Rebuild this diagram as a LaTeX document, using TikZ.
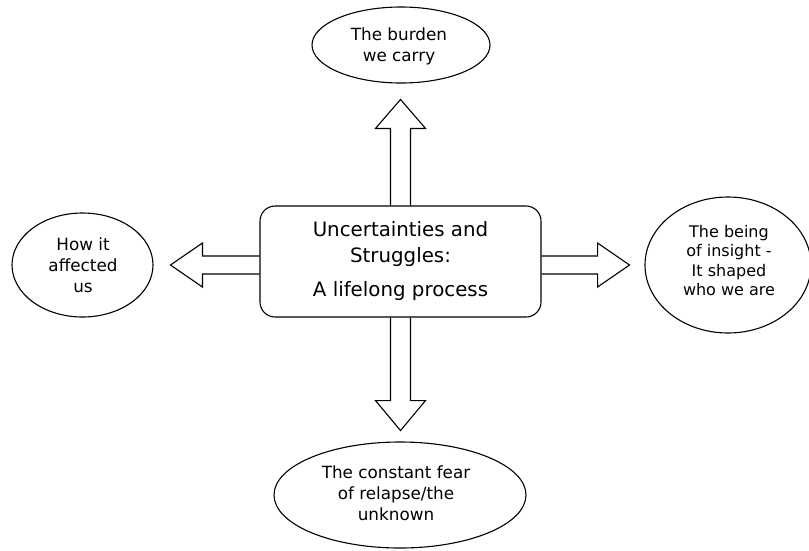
\documentclass[tikz,border=0pt]{standalone}
\usepackage{fontspec}
\setmainfont{DejaVu Sans}
\usetikzlibrary{shapes.geometric,calc}
\begin{document}
\begin{tikzpicture}[x=1pt,y=-1pt,
  line width=1.1pt,
  oval/.style={draw, ellipse, inner sep=0pt},
  ovaltext/.style={align=center, inner sep=0pt, font=\fontsize{16.8}{21}\selectfont},
  mainbox/.style={draw, rounded corners=15pt, minimum width=281pt, minimum height=111pt, inner sep=0pt,
    align=center, font=\fontsize{19.8}{26}\selectfont},
  blockarrow/.style={draw, line join=miter}
]
\useasboundingbox (0,0) rectangle (809,550);

% central box
\node[mainbox] (box) at (400.5,261.5) {Uncertainties and\\Struggles:\\[8pt]A lifelong process};

% ellipses
\node[oval, minimum width=178pt, minimum height=76pt] (top) at (401,45) {};
\node[oval, minimum width=141pt, minimum height=104pt] (left) at (82.5,265) {};
\node[oval, minimum width=166pt, minimum height=136pt] (right) at (728,265) {};
\node[oval, minimum width=252pt, minimum height=106pt] (bottom) at (400,495) {};

% ellipse texts
\node[ovaltext] (toptext) at (399,46) {The burden\\we carry};
\node[ovaltext] (lefttext) at (83,265) {How it\\affected\\us};
\node[ovaltext, font=\fontsize{16}{19.5}\selectfont] (righttext) at (729,260.5) {The being\\of insight -\\It shaped\\who we are};
\node[ovaltext] (bottomtext) at (396,493) {The constant fear\\of relapse/the\\unknown};

% block arrows
\coordinate (upbase) at (box.north);
\coordinate (downbase) at (box.south);
\coordinate (leftbase) at ($(box.west)+(0,3.5)$);
\coordinate (rightbase) at ($(box.east)+(0,3.5)$);

\draw[blockarrow] ($(upbase)+(-10,0)$) -- ++(0,-77) -- ++(-15,0) -- ++(25,-29) -- ++(25,29) -- ++(-15,0) -- ++(0,77);
\draw[blockarrow] ($(downbase)+(-10,0)$) -- ++(0,83) -- ++(-15,0) -- ++(25,30) -- ++(25,-30) -- ++(-15,0) -- ++(0,-83);
\draw[blockarrow] ($(leftbase)+(0,-9)$) -- ++(-57,0) -- ++(0,-13) -- ++(-32,22) -- ++(32,22) -- ++(0,-13) -- ++(57,0);
\draw[blockarrow] ($(rightbase)+(0,-9)$) -- ++(56,0) -- ++(0,-13) -- ++(32,22) -- ++(-32,22) -- ++(0,-13) -- ++(-56,0);
\end{tikzpicture}
\end{document}
